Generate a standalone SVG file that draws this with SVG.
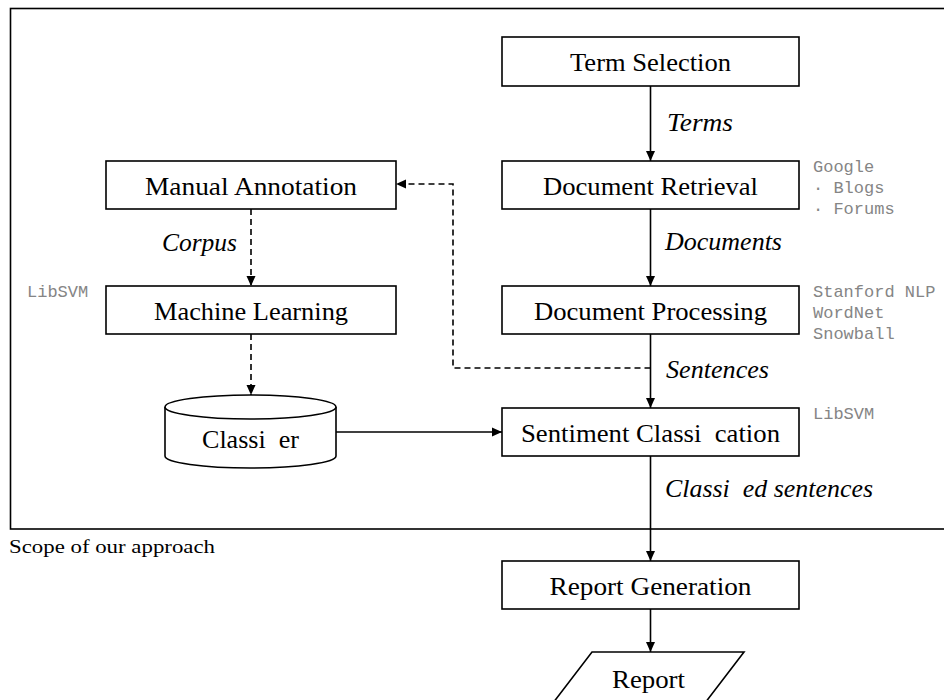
<svg xmlns="http://www.w3.org/2000/svg" width="944" height="700" viewBox="0 0 944 700">
<style>
.box{fill:#fff;stroke:#000;stroke-width:1.6}
.t{font-family:"Liberation Serif","Times New Roman",serif;font-size:25px;fill:#000;text-anchor:middle}
.lbl{font-family:"Liberation Serif","Times New Roman",serif;font-size:25px;font-style:italic;fill:#000}
.mono{font-family:"Liberation Mono","Courier New",monospace;font-size:17px;fill:#858585}
.ln{fill:none;stroke:#000;stroke-width:1.6}
.dash{fill:none;stroke:#000;stroke-width:1.6;stroke-dasharray:6,4}
.pre{white-space:pre}
</style>
<defs>
<marker id="ah" markerWidth="10" markerHeight="10" refX="10" refY="5" orient="auto" markerUnits="userSpaceOnUse">
<path d="M0,0.5 L10,5 L0,9.5 z" fill="#000"/>
</marker>
</defs>
<rect id="scope" x="10.5" y="8.5" width="960" height="520.5" fill="none" stroke="#000" stroke-width="1.6"/>
<text x="9" y="553" font-family="'Liberation Serif','Times New Roman',serif" font-size="19" textLength="206" lengthAdjust="spacingAndGlyphs">Scope of our approach</text>
<g id="connectors">
<line class="ln" x1="650.5" y1="86" x2="650.5" y2="161" marker-end="url(#ah)"/>
<line class="ln" x1="650.5" y1="209" x2="650.5" y2="286" marker-end="url(#ah)"/>
<line class="ln" x1="650.5" y1="334" x2="650.5" y2="408" marker-end="url(#ah)"/>
<line class="ln" x1="650.5" y1="456" x2="650.5" y2="561" marker-end="url(#ah)"/>
<line class="ln" x1="650.5" y1="609" x2="650.5" y2="652" marker-end="url(#ah)"/>
<line class="dash" x1="251" y1="209" x2="251" y2="286" marker-end="url(#ah)"/>
<line class="dash" x1="251" y1="334" x2="251" y2="395" marker-end="url(#ah)"/>
<line class="ln" x1="336" y1="432" x2="502" y2="432" marker-end="url(#ah)"/>
<polyline class="dash" points="650.5,368 453,368 453,184 396,184" marker-end="url(#ah)"/>
<text class="lbl" x="667" y="131" textLength="66" lengthAdjust="spacingAndGlyphs">Terms</text>
<text class="lbl" x="665" y="250" textLength="117" lengthAdjust="spacingAndGlyphs">Documents</text>
<text class="lbl" x="666" y="378" textLength="103" lengthAdjust="spacingAndGlyphs">Sentences</text>
<text class="lbl pre" x="665" y="497" textLength="208" lengthAdjust="spacingAndGlyphs">Classi  ed sentences</text>
<text class="lbl" x="162" y="251" textLength="75" lengthAdjust="spacingAndGlyphs">Corpus</text>
</g>
<g id="term-selection">
<rect class="box" x="502" y="37" width="297" height="49"/>
<text class="t" x="650.5" y="71" textLength="161" lengthAdjust="spacingAndGlyphs">Term Selection</text>
</g>
<g id="document-retrieval">
<rect class="box" x="502" y="161" width="297" height="48"/>
<text class="t" x="650.5" y="195" textLength="215" lengthAdjust="spacingAndGlyphs">Document Retrieval</text>
<text class="mono" x="813" y="172">Google</text>
<text class="mono" x="813" y="193">· Blogs</text>
<text class="mono" x="813" y="214">· Forums</text>
</g>
<g id="document-processing">
<rect class="box" x="502" y="286" width="297" height="48"/>
<text class="t" x="650.5" y="320" textLength="233" lengthAdjust="spacingAndGlyphs">Document Processing</text>
<text class="mono" x="813" y="297">Stanford NLP</text>
<text class="mono" x="813" y="318">WordNet</text>
<text class="mono" x="813" y="339">Snowball</text>
</g>
<g id="sentiment-classification">
<rect class="box" x="502" y="408" width="297" height="48"/>
<text class="t pre" x="650.5" y="442" textLength="259" lengthAdjust="spacingAndGlyphs">Sentiment Classi  cation</text>
<text class="mono" x="813" y="419">LibSVM</text>
</g>
<g id="report-generation">
<rect class="box" x="502" y="561" width="297" height="48"/>
<text class="t" x="650.5" y="595" textLength="202" lengthAdjust="spacingAndGlyphs">Report Generation</text>
</g>
<g id="report">
<polygon class="box" points="592,652 744,652 705,703 553,703"/>
<text class="t" x="648.5" y="688" textLength="73" lengthAdjust="spacingAndGlyphs">Report</text>
</g>
<g id="manual-annotation">
<rect class="box" x="106" y="161" width="290" height="48"/>
<text class="t" x="251" y="195" textLength="212" lengthAdjust="spacingAndGlyphs">Manual Annotation</text>
</g>
<g id="machine-learning">
<rect class="box" x="106" y="286" width="290" height="48"/>
<text class="t" x="251" y="320" textLength="194" lengthAdjust="spacingAndGlyphs">Machine Learning</text>
<text class="mono" x="27" y="297">LibSVM</text>
</g>
<g id="classifier">
<path class="box" d="M165,407 L165,456 A85.5,12 0 0 0 336,456 L336,407"/>
<ellipse class="box" cx="250.5" cy="407" rx="85.5" ry="12"/>
<text class="t pre" x="250.5" y="448" textLength="97" lengthAdjust="spacingAndGlyphs">Classi  er</text>
</g>
</svg>
